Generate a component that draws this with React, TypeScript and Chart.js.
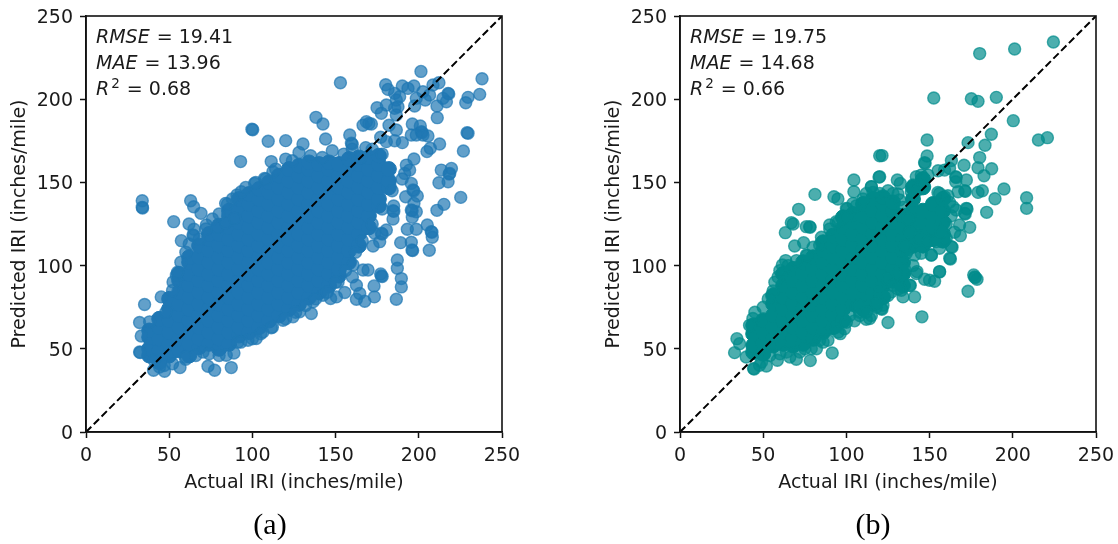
import React, { useEffect, useRef } from "react";
import { Chart, registerables } from "chart.js";

Chart.register(...registerables);

const tickValues = [0, 50, 100, 150, 200, 250];
const xTitle = "Actual IRI (inches/mile)";
const yTitle = "Predicted IRI (inches/mile)";
const metricsA = ["19.41", "13.96", "0.68"];
const metricsB = ["19.75", "14.68", "0.66"];
const diagonal = [[0, 0], [250, 250]];

// Separately readable points of panel (a), [actual, predicted]
const scatterA = [
  [33.8,139],[33.8,135],[34,134.6],[99.7,182],[100.2,181.6],[109.5,174.7],[92.9,162.5],[111.3,162.5],[112.3,156.4],[101.3,149.4],[107.3,152.4],
  [62.9,139],[64.7,135.4],[69.1,131.4],[52.7,126.4],[61.9,125],[72.3,124.4],[83.9,137.4],[57.3,115],[64.3,118.4],[64.7,118],[64.9,121.8],[78.7,123],[83.9,125.8],[89.3,128.4],[90.7,142.4],[93.3,144.4],
  [201.3,216.7],[152.9,209.9],[238,212.3],[236.6,202.9],[229.6,201.1],[228.2,197.9],[180.1,208.7],[181.5,205.9],[190.1,207.9],[193.5,206.5],[197.1,207.9],[185.5,203.5],[188.5,201.5],[186.5,199.5],[202.5,204.5],[208.5,208.5],[212.1,209.9],[206.5,202.5],[203.9,199.5],[198.5,200.5],[217.6,203.5],[218,203.2],[214.5,200.5],[216.6,198.5],[210.9,195.9],[211.1,188.9],[197.5,195.9],[174.9,194.9],[177.5,191.5],[180.5,196.5],[185.5,194.5],[187.5,195.5],[186.5,190.5],
  [138.2,189.1],[142.4,185.1],[166.5,184.3],[168.5,186.5],[171.5,185.1],[170,185.4],[182.1,184.3],[186.5,181.5],[196.1,185.1],[200.9,183.9],[195.5,178.5],[198.5,178.5],[201.5,180.5],[202,180],[205.5,177.9],[202.5,178.5],[229,179.9],[229.6,179.5],[120,175.1],[130.4,173.1],[144,176.1],[158.5,178.5],[159.5,173.5],[160,173],[168.1,170.9],[177.1,177.1],[180.5,174.5],[185.5,175],[190.1,173.9],[212.5,173.1],[206.9,170.5],[204.9,168.5],[226.8,168.9],[197.1,164.1],
  [213.5,157.4],[219.6,158.4],[218.6,155.4],[218.2,155],[217.6,150.4],[212.1,149.8],[225.2,141],[215.1,136.8],[210.9,133.2],[192.1,141.4],[199.1,141.8],[195.5,149.4],[196.5,145.4],[197,145],[194.5,157.4],[191.5,155.4],[192.5,160.4],[197.1,137.4],[198.5,132.4],[195.5,133.4],[196,133],[196.1,129],[184.9,135.8],[184.5,133],[185,132.6],[184.5,128],[205.1,124.4],[193.1,121.8],[198.5,121.8],[207.5,120.4],[207.9,120],[208.1,117],[189.1,113.8],[195.5,114],[195.9,109.4],[196.3,109],[206.3,109.2],[187.1,103.4],[187.1,98.4],
  [180.5,121.4],[177.5,119.4],[178,119],[173.5,119.4],[176.5,114.4],[172.5,111.8],[166.5,97.4],[169.5,97.4],[177.1,95],[160.5,100.4],
  [186.5,79.8],[189.5,92.2],[189.5,87.2],[177.5,93.8],[178,93.4],[173.1,87.8],[173.3,81.2],[167.5,78.6],[162.5,79.8],[164.5,83.2],[162.5,88.2],[160.1,93.2],[155.5,83.8],[150.5,81.2],[147,80.2],[151.5,90.2],[135.4,71.2],[124.4,69.2],[118.4,67.2],[128.4,72.2],[136.4,78.2],[142.4,82.2],
  [35.2,76.6],[45.2,81.2],[32.2,65.8],[33.2,57.7],[32.2,48.1],[32.6,47.8],[38.2,66.2],[40.6,37.1],[47.2,36.5],[44.2,39.1],[56.5,38.7],[73.3,39.5],[77.3,37.1],[87.3,38.7],[88.9,47.5],[84.3,46.1],[70.3,48.1],[59.9,43.7],[52.3,90.2],[54.3,94.2],[97.3,55.1],[102.3,56.2],[111.3,62.6],[106.3,60.1],[91.3,54.1],
  [48,72],[52,85],[55,96],[57,102],[60,108],[62,113],[68,116],[72,122],[76,128],[80,131],[85,137],[88,140],[96,147],[102,150],[108,152],[114,158],[120,164],[124,163],[128,168],[135,166],[142,165],[148,169],[155,167],[160,170],[165,165],[172,170],[178,167],
  [41,43],[47,40],[52,41],[60,45],[66,46],[74,47],[80,46],[93,54],[100,56],[105,59],[112,63],[120,68],[126,72],[132,76],[138,80],[145,84],[150,90],[156,97],[162,108],[166,115],[172,125],[178,134],[184,145],[190,152],
];

// Solid part of panel (a), where single points cannot be told apart: [actual, predicted values]
const denseA = [
  [38,[46,50,57,61]],[44,[42,49,56,63,68]],[50,[46,53,60,67,74,80]],[56,[49,56,63,70,77,84,91,95]],
  [62,[46,53,60,67,74,81,88,95,102,105]],[68,[51,56,63,70,77,84,91,98,105,112]],[74,[53,60,67,74,81,88,95,102,109,116,119]],
  [80,[50,56,63,70,77,84,91,98,105,112,119,124]],[86,[53,60,67,74,81,88,95,102,109,116,123,130,133]],
  [92,[58,63,70,77,84,91,98,105,112,119,126,133,140]],[98,[60,67,74,81,88,95,102,109,116,123,130,137,143]],
  [104,[63,70,77,84,91,98,105,112,119,126,133,140,146]],[110,[67,74,81,88,95,102,109,116,123,130,137,144,150]],
  [116,[70,77,84,91,98,105,112,119,126,133,140,147,154]],[122,[74,81,88,95,102,109,116,123,130,137,144,151,158]],
  [128,[77,84,91,98,105,112,119,126,133,140,147,154,160]],[134,[81,88,95,102,109,116,123,130,137,144,151,158,162]],
  [140,[84,91,98,105,112,119,126,133,140,147,154,161]],[146,[88,95,102,109,116,123,130,137,144,151,158,162]],
  [152,[94,98,105,112,119,126,133,140,147,154,161]],[158,[102,109,116,123,130,137,144,151,158,164]],
  [164,[112,119,126,133,140,147,154,161,165]],[170,[123,130,137,144,151,158,165]],[176,[136,140,147,154,161,166]],[182,[147,151,158]],
];

// Separately readable points of panel (b)
const scatterB = [
  [120,166],[120,153.4],[81.1,142.8],[92.5,141.4],[94.9,140],[71.3,133.8],[104.5,151.4],[104.5,144.4],[115,147.4],[112,143.4],[100,134.4],[100.4,134],[104,137.4],[66.9,125.8],[68,125],[75.9,123.4],[77.9,123.4],[78.2,123],[63.3,119.8],[68.9,111.8],[74.3,113.8],[75.9,106.4],[76.3,106],[63.5,103],[61.5,100.4],[89.9,124.4],[93.9,126.4],[97.5,129],[83.9,112.4],
  [32.8,47.7],[34.2,56.1],[35.8,53.1],[39.8,45.1],[44.2,38.1],[44.6,37.8],[47.8,40.1],[51.9,39.7],[58.5,43.1],[69.9,43.7],[66,45],[78.3,42.9],[91.5,47.5],[88.9,55.1],[83.9,55.1],[78.9,50.1],[104.9,66.8],[111.9,67.8],[96.3,59.1],[98.9,62.1],[93.9,63.1],[105.9,75.2],[55.9,84.8],[58.9,93.2],[43.8,68.2],[41.8,64.1],
  [224.4,234.4],[201.1,230.2],[180.1,227.4],[152.5,200.7],[175.1,200.3],[179.1,198.7],[190.1,201.1],[200.3,187.1],[220.8,176.9],[215.4,175.5],[187.1,178.9],[183.3,172.3],[173.1,173.9],[148.5,175.5],[121.4,166.1],[148.5,165.9],[147,161.9],[147.3,161.4],[163.1,163.1],[180.1,164.9],[170.7,160.3],[179.1,158.8],[182.7,154],[187.3,158.2],[155.1,157],[159,157.4],[162,158.5],
  [119.6,153.2],[130.6,151.4],[132.4,149.4],[165.7,153.4],[166,153],[165.7,150.4],[172.1,151.4],[194.7,146],[189.3,140.2],[181.7,145],[179.1,144],[171.1,145],[171.5,144.6],[167.1,144.4],[208.3,140.8],[208.3,134.4],[184.3,132],[172.1,134.4],[172.5,134],[171.1,131.4],[171.4,131],[168,124.4],[174.1,123],[168.5,118],[163.1,111.4],[163.5,111],[162.1,104.4],[162.5,104],[156,110.4],[151.1,106.4],[156,96.4],[142.4,96.4],[176.5,94.4],
  [142,153.4],[145,154.4],[140,148.4],[144,148.4],[149,154.4],[139,144.4],[143,145.4],[147,147.4],[156,143.4],[159,141.4],[155,144],[161,142],[164,135.4],[166,133.4],[132,139.4],[128,143.4],[120,143.4],[115,147.4],[140,116.4],[144,116.4],[149,114.4],[154,114.4],[160,116.4],[136,107.4],[141,106.4],[145,107.4],[151,106.4],[137,109.4],
  [173.1,84.6],[177.1,93.2],[177.5,92.8],[178.5,91.8],[145.4,69.2],[125,65.8],[141,81.2],[134,81.2],[127,84.2],[138,88.2],[138.4,88],[133,85.2],[147,91.8],[150,91.2],[153,90.6],[156,96.2],[142,95.2],[121,74.2],[121.4,73.8],[122,76.2],[120,84.2],[114,68.2],[140,100],[135,98],[130,95],[125,92],[128,88],[115,70],[108,72],[100,66],[108,76],[120,80],[118,75],
  [45,72],[50,75],[53,80],[57,90],[60,97],[65,100],[70,103],[80,111],[85,117],[90,122],[95,126],[100,129],[106,136],[110,140],[116,144],[125,145],[131,143],[134,135],[137,128],[138,120],[135,112],[49,42],[54,46],[60,47],[64,48],[72,48],[75,50],[82,50],[86,54],[95,60],[102,70],[108,70],[112,72],[118,77],[125,82],[131,86],[165,120],[160,125],[163,130],[162,138],[157,120],
];

// Solid part of panel (b)
const denseB = [
  [44,[48,52,59,64]],[50,[47,53,60,67]],[56,[52,56,63,70,77,82]],[62,[53,60,67,74,81,88,95]],[68,[52,56,63,70,77,84,91,98]],
  [74,[53,60,67,74,81,88,95,102]],[80,[56,63,70,77,84,91,98,105]],[86,[60,67,74,81,88,95,102,109,114]],[92,[63,70,77,84,91,98,105,112,118]],
  [98,[67,74,81,88,95,102,109,116,123,129]],[104,[77,84,91,98,105,112,119,126,131]],[110,[74,81,88,95,102,109,116,123,130,137]],
  [116,[77,84,91,98,105,112,119,126,133,140]],[122,[81,88,95,102,109,116,123,130,137,141]],[128,[91,98,105,112,119,126,133,138]],
  [134,[88,95,102,109,116,123,130]],[140,[112,119,126,133,140,147]],[146,[112,119,126,133,147,152]],[152,[116,123,130,137]],[158,[115,119,126,133,140]],
];

const FONT = '"DejaVu Sans"';
const INK = "#1a1a1a";

const toPoints = (list: number[][]) => list.map(([x, y]) => ({ x, y }));
const expand = (cols: any[]) => cols.flatMap(([x, ys]: any) => ys.map((y: number) => ({ x, y })));

const frameAndMetrics = (values: string[]) => ({
  id: "frameAndMetrics",
  afterDraw(chart: any) {
    const { ctx, chartArea: a } = chart;
    ctx.save();
    ctx.strokeStyle = "#111";
    ctx.lineWidth = 1.6;
    ctx.strokeRect(a.left, a.top, a.right - a.left, a.bottom - a.top);
    ctx.fillStyle = INK;
    ctx.textBaseline = "alphabetic";
    const x0 = a.left + 10;
    const rows: [string, string, number][] = [
      ["RMSE", values[0], 27],
      ["MAE", values[1], 53],
      ["R", values[2], 79],
    ];
    rows.forEach(([name, val, dy], i) => {
      let x = x0;
      const y = a.top + dy;
      ctx.font = `italic 19px ${FONT}`;
      ctx.fillText(name, x, y);
      x += ctx.measureText(name).width;
      if (i === 2) {
        ctx.font = `13.5px ${FONT}`;
        ctx.fillText("2", x + 2, y - 7);
        x += ctx.measureText("2").width + 2;
      }
      ctx.font = `19px ${FONT}`;
      ctx.fillText(` = ${val}`, x + 1, y);
    });
    ctx.restore();
  },
});

function Panel({ left, scatter, dense, rgb, metrics }: any) {
  const ref = useRef<HTMLCanvasElement>(null);
  useEffect(() => {
    const soft = `rgba(${rgb},0.7)`;
    const solid = `rgb(${rgb})`;
    const axis = (title: string, isX: boolean) => ({
      type: "linear",
      min: 0,
      max: 250,
      afterFit(s: any) {
        if (isX) s.height = 112;
        else s.width = 86;
        s.paddingLeft = s.paddingRight = s.paddingTop = s.paddingBottom = 0;
      },
      afterBuildTicks(s: any) {
        s.ticks = tickValues.map((value) => ({ value }));
      },
      border: { color: "#111", width: 1.6 },
      grid: { drawOnChartArea: false, drawTicks: true, tickLength: 6, tickColor: "#111", tickWidth: 1.5 },
      ticks: { color: INK, font: { family: FONT, size: 19 }, padding: 7, labelOffset: isX ? 0 : 2, maxRotation: 0, autoSkip: false },
      title: {
        display: true,
        text: title,
        color: INK,
        font: { family: FONT, size: 19 },
        padding: isX ? { top: 0, bottom: 50 } : { top: 9, bottom: 0 },
      },
    });
    const chart = new Chart(ref.current!, {
      type: "scatter",
      data: {
        datasets: [
          {
            type: "line",
            data: toPoints(diagonal),
            borderColor: "#000",
            borderWidth: 2,
            borderDash: [7.5, 3.5],
            pointRadius: 0,
            fill: false,
            order: 0,
          },
          {
            data: toPoints(scatter),
            backgroundColor: soft,
            borderColor: soft,
            borderWidth: 1.4,
            pointRadius: 6,
            order: 1,
          },
          {
            data: expand(dense),
            backgroundColor: solid,
            borderColor: solid,
            borderWidth: 1,
            pointRadius: 7.5,
            order: 2,
          },
        ],
      } as any,
      options: {
        responsive: false,
        animation: false,
        layout: { padding: { left: 0, right: 22, top: 16, bottom: 0 } },
        plugins: { legend: { display: false }, tooltip: { enabled: false } },
        scales: { x: axis(xTitle, true), y: axis(yTitle, false) },
      } as any,
      plugins: [frameAndMetrics(metrics)],
    });
    return () => chart.destroy();
  }, []);
  return <canvas ref={ref} width={524} height={544} style={{ position: "absolute", left, top: 0, width: 524, height: 544 }} />;
}

const caption = (text: string, center: number) => (
  <div
    style={{
      position: "absolute",
      left: center - 40,
      width: 80,
      top: 509,
      textAlign: "center",
      font: '30px/30px "Liberation Serif"',
      color: "#000",
    }}
  >
    {text}
  </div>
);

export default function App() {
  return (
    <>
      <Panel left={0} scatter={scatterA} dense={denseA} rgb="31,119,180" metrics={metricsA} />
      <Panel left={594} scatter={scatterB} dense={denseB} rgb="0,139,139" metrics={metricsB} />
      {caption("(a)", 270)}
      {caption("(b)", 873)}
    </>
  );
}
